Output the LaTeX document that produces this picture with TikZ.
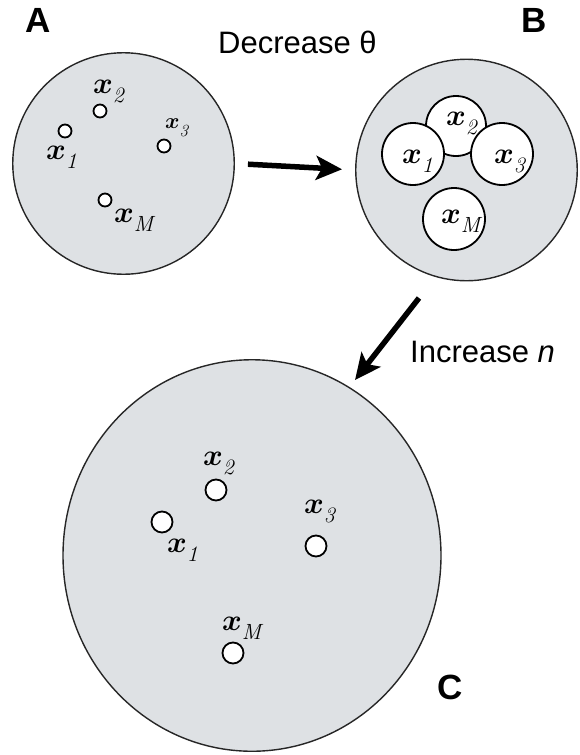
\RequirePackage{fix-cm}
\documentclass[tikz,border=0pt]{standalone}
\usepackage{amsmath,bm}
\usepackage[no-math]{fontspec}
\setmainfont{Liberation Sans}
\usetikzlibrary{arrows.meta,shapes.geometric}
\definecolor{disc}{RGB}{222,225,228}
\DeclareMathSizes{30}{30}{22}{16}
\DeclareMathSizes{22}{22}{17}{12}
\newcommand\xl[1]{$\bm{x}_{\lower5pt\hbox{$\scriptstyle\mathit{#1}$}}$}
\begin{document}
\begin{tikzpicture}[x=1pt,y=-1pt,
  bigdisc/.style={circle,fill=disc,draw=black!85,line width=1.4pt,inner sep=0},
  pt/.style={circle,fill=white,draw=black,line width=1.8pt,inner sep=0,minimum size=#1},
  lbl/.style={anchor=base west,inner sep=0,font=\fontsize{30}{34}\selectfont},
  lbls/.style={anchor=base west,inner sep=0,font=\fontsize{22}{26}\selectfont},
  panel/.style={anchor=base west,inner sep=0,font=\fontsize{35}{40}\selectfont\bfseries},
  caption/.style={anchor=base west,inner sep=0,font=\fontsize{31}{36}\selectfont},
  arr/.style={line width=5.5pt,-{Stealth[length=26pt,width=24pt,inset=6pt]}}]
\useasboundingbox (0,0) rectangle (579,755);
% discs
\node[bigdisc,minimum size=221.5pt] (A) at (123.5,163.5) {};
\node[bigdisc,minimum size=221.5pt] (B) at (466.5,170) {};
\node[bigdisc,ellipse,minimum width=378pt,minimum height=391.5pt] (C) at (252,555.5) {};
% panel letters
\node[panel] (lA) at (25,32) {A};
\node[panel] (lB) at (521,32) {B};
\node[panel] (lC) at (437,699) {C};
% captions
\node[caption] (dec) at (218,53) {Decrease θ};
\node[caption] (inc) at (410,362) {Increase \textit{n}};
% arrows
\draw[arr,shorten <=13pt,shorten >=13pt] (A.east) -- (B.west);
\coordinate (bc1) at (419,298);
\coordinate (bc2) at (355,380);
\draw[arr] (bc1) -- (bc2);
% panel A points
\node[pt=13pt] (a1) at (65,131) {};
\node[pt=13pt] (a2) at (100,111) {};
\node[pt=13pt] (a3) at (164,146) {};
\node[pt=13pt] (aM) at (105,200) {};
\node[lbl] (la1) at (46,159) {\xl{1}};
\node[lbl] (la2) at (93,93) {\xl{2}};
\node[lbls] (la3) at (165,128) {\xl{3}};
\node[lbl] (laM) at (114,222) {\xl{M}};
% panel B balls
\node[pt=60pt] (b2) at (456,126) {};
\node[pt=62pt] (b1) at (413,154) {};
\node[pt=62pt] (b3) at (502,154) {};
\node[pt=62pt] (bM) at (454,219) {};
\node[lbl] (lb1) at (402,163) {\xl{1}};
\node[lbl] (lb2) at (446,125) {\xl{2}};
\node[lbl] (lb3) at (494,163) {\xl{3}};
\node[lbl] (lbM) at (441,223) {\xl{M}};
% panel C points
\node[pt=21pt] (c1) at (162,522) {};
\node[pt=21pt] (c2) at (216,490) {};
\node[pt=21pt] (c3) at (316,546) {};
\node[pt=21pt] (cM) at (233,653) {};
\node[lbl] (lc1) at (167,552) {\xl{1}};
\node[lbl] (lc2) at (203,465) {\xl{2}};
\node[lbl] (lc3) at (304,513) {\xl{3}};
\node[lbl] (lcM) at (222,630) {\xl{M}};
\end{tikzpicture}
\end{document}
